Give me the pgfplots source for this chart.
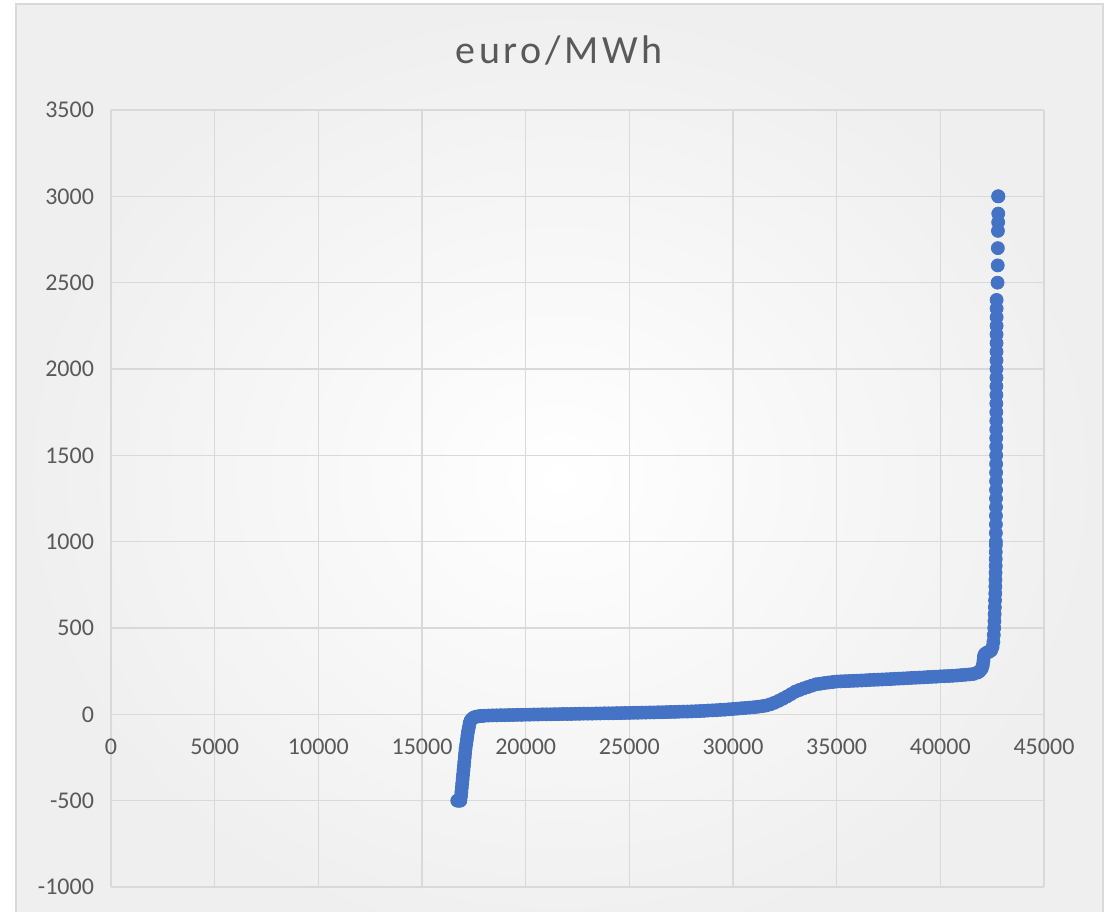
\documentclass[border=0pt]{standalone}
\usepackage{pgfplots}
\pgfplotsset{compat=1.18}
\usepackage{pgfplotstable}
\usepackage{fontspec}
\setmainfont{Carlito}
\newfontfamily\titlefont[LetterSpace=9]{Carlito}
\definecolor{gridc}{HTML}{D9D9D9}
\definecolor{txt}{HTML}{595959}
\definecolor{dots}{HTML}{4472C4}
\definecolor{bgedge}{HTML}{EFEFEF}

\pgfplotstableread{
x y
16700 -500
16780 -500
16850 -500
16880 -475
16900 -450
16920 -425
16940 -400
16960 -375
16980 -350
17000 -325
17020 -300
17040 -275
17060 -250
17080 -225
17100 -200
17130 -175
17160 -150
17190 -125
17220 -100
17260 -75
17300 -50
17350 -35
17420 -25
17500 -18
17600 -14
17700 -12
17800 -10
17900 -9
18000 -8
18200 -7
18400 -6
18600 -6
18800 -5
19000 -5
19200 -4
19400 -4
19600 -3
19800 -3
20000 -2
20200 -2
20400 -1
20600 -1
20800 0
21000 0
21200 0
21400 1
21600 1
21800 2
22000 2
22200 2
22400 3
22600 3
22800 4
23000 4
23200 4
23400 5
23600 5
23800 6
24000 6
24200 6
24400 7
24600 7
24800 8
25000 8
25200 9
25400 9
25600 10
25800 10
26000 11
26200 11
26400 12
26600 12
26800 13
27000 14
27200 14
27400 15
27600 16
27800 16
28000 17
28200 18
28400 19
28600 20
28800 22
29000 23
29200 24
29400 26
29600 27
29800 29
30000 31
30200 33
30400 35
30600 37
30800 39
31000 41
31200 44
31400 47
31600 51
31800 58
32000 67
32200 78
32400 90
32600 103
32800 117
33000 131
33200 141
33400 150
33600 158
33800 166
34000 174
34200 177
34400 181
34600 184
34800 187
35000 190
35200 191
35400 192
35600 193
35800 194
36000 195
36200 196
36400 197
36600 199
36800 200
37000 201
37200 202
37400 203
37600 204
37800 206
38000 207
38200 208
38400 209
38600 211
38800 212
39000 213
39200 214
39400 216
39600 217
39800 218
40000 220
40200 221
40400 222
40600 223
40800 225
41000 227
41200 229
41400 231
41600 234
41800 242
41900 250
42000 265
42050 285
42080 310
42100 335
42150 350
42250 358
42350 362
42450 370
42520 390
42560 420
42580 460
42600 500
42610 540
42620 580
42630 620
42640 660
42650 700
42655 740
42660 780
42665 820
42670 860
42672 900
42675 940
42678 980
42680 1000
42680 1050
42682 1100
42684 1150
42685 1200
42686 1250
42688 1300
42690 1350
42690 1400
42692 1450
42694 1500
42695 1550
42696 1600
42698 1650
42700 1700
42700 1750
42702 1800
42704 1850
42705 1900
42706 1950
42708 2000
42710 2050
42710 2100
42712 2150
42712 2200
42714 2250
42715 2300
42715 2350
42715 2400
42760 2500
42770 2600
42775 2700
42780 2800
42790 2850
42795 2900
42790 3000
42800 3000
}\pricedata

\begin{document}
\begin{tikzpicture}
\useasboundingbox (0,0) rectangle (558pt,456pt);
\fill[white] (0,0) rectangle (558pt,456pt);
\shade[inner color=white, outer color=bgedge] (8pt,-20pt) rectangle (551.5pt,454pt);
\draw[gridc, line width=0.9pt] (8pt,-20pt) -- (8pt,454pt) -- (551.5pt,454pt) -- (551.5pt,-20pt);
\node[text=txt, font=\titlefont\fontsize{20}{22}\selectfont, anchor=base] at (279.5pt,424pt) {euro/MWh};
\begin{axis}[
 at={(55.5pt,12.5pt)}, anchor=south west,
 scale only axis, width=466.5pt, height=388.5pt,
 xmin=0,xmax=45000,ymin=-1000,ymax=3500,
 scaled x ticks=false, scaled y ticks=false,
 axis x line=middle, axis y line=left,
 x axis line style={-, draw=gridc, line width=0.75pt},
 y axis line style={-, draw=gridc, line width=0.75pt},
 xtick={0,5000,...,45000}, ytick={-1000,-500,...,3500},
 xticklabels={0,5000,10000,15000,20000,25000,30000,35000,40000,45000},
 yticklabels={-1000,-500,0,500,1000,1500,2000,2500,3000,3500},
 hide obscured x ticks=false, hide obscured y ticks=false,
 major tick length=0pt,
 grid=major, major grid style={draw=gridc, line width=0.75pt},
 tick label style={font=\fontsize{12}{14}\selectfont, text=txt},
 xticklabel style={anchor=north, yshift=-9pt},
 yticklabel style={anchor=east, xshift=-5pt},
]
\addplot[only marks, mark=*, mark size=3.25pt, mark options={draw=dots, fill=dots}] table[x=x,y=y]{\pricedata};
\end{axis}
\end{tikzpicture}
\end{document}
